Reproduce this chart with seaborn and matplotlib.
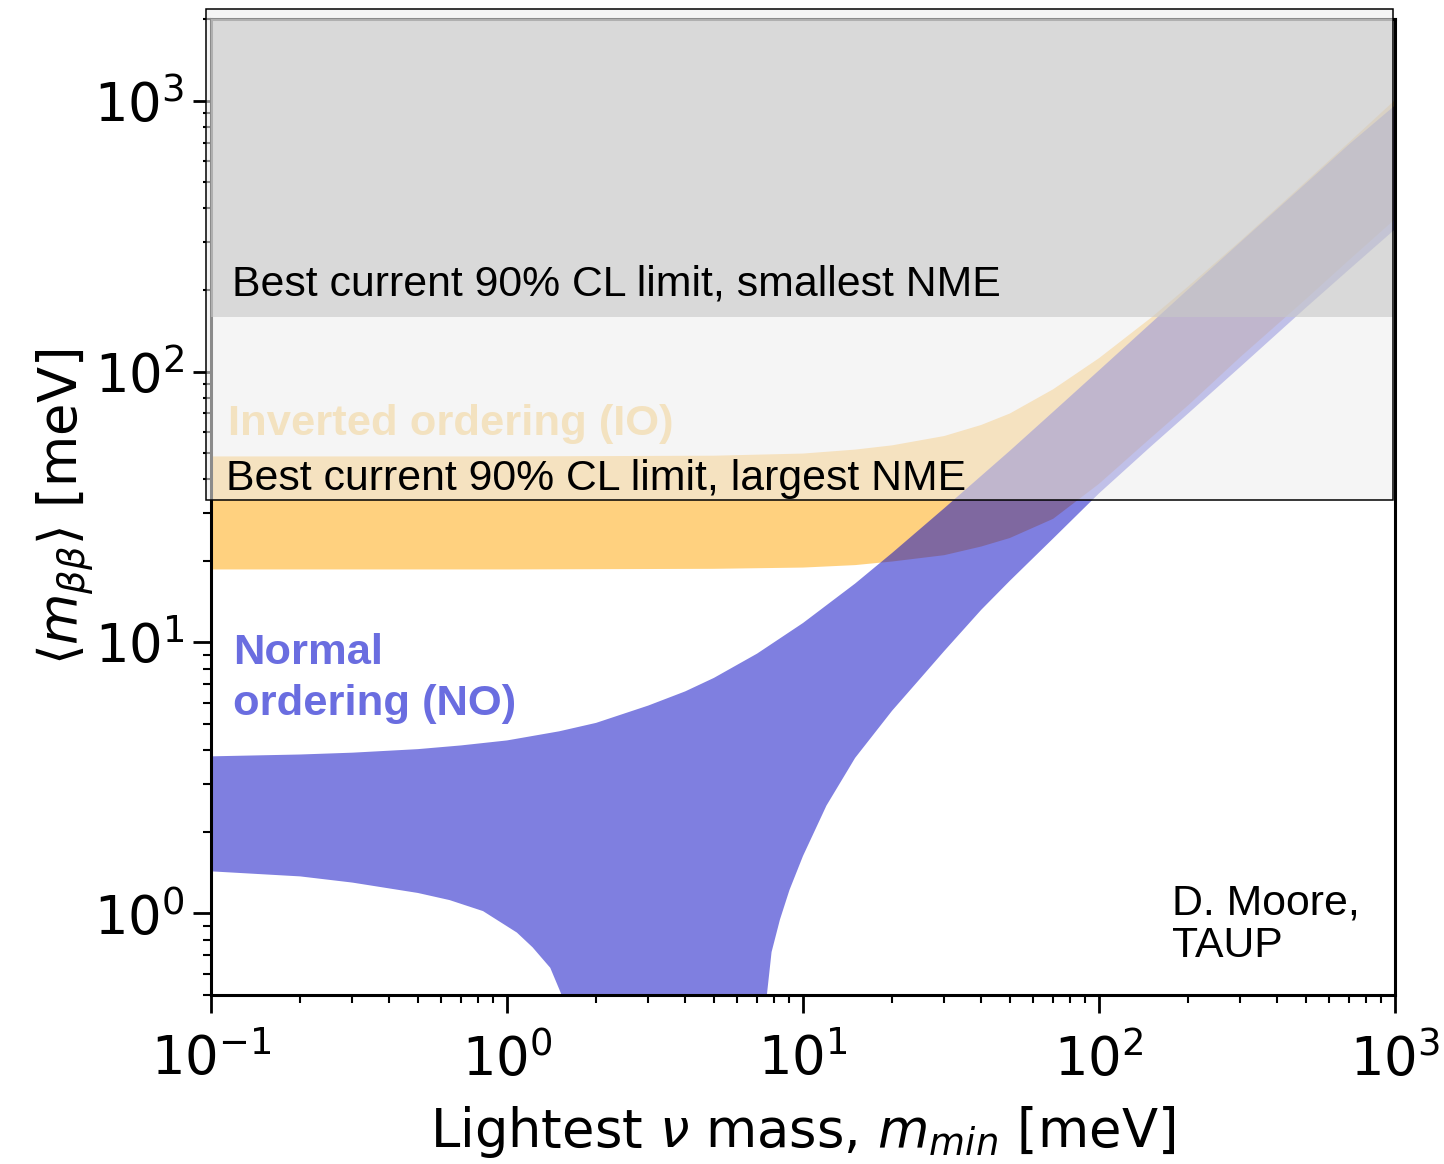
import matplotlib
matplotlib.use("Agg")
import matplotlib.pyplot as plt
import matplotlib.transforms as mtransforms
from matplotlib.patches import Rectangle
import seaborn as sns

# ---------------- data ----------------
# Normal ordering band: upper edge (left -> right)
no_upper_m = [0.1, 0.2, 0.3, 0.5, 0.7, 1, 1.5, 2, 3, 4, 5, 7, 10, 15, 20, 30,
              50, 70, 100, 150, 200, 300, 500, 700, 1000]
no_upper_v = [3.80, 3.86, 3.92, 4.04, 4.17, 4.35, 4.70, 5.05, 5.85, 6.6, 7.4,
              9.1, 11.8, 16.5, 21.4, 31.3, 51, 71, 101, 151, 201, 300, 495,
              690, 960]
# Normal ordering band: lower edge (right -> left, through the funnel)
no_lower_m = [1000, 700, 500, 300, 200, 150, 100, 70, 50, 40, 30, 25, 20, 15,
              12, 10, 9, 8.36, 7.83, 7.55, 7.3, 7.1, 1.7, 1.62, 1.53, 1.40,
              1.22, 1.08, 0.83, 0.64, 0.5, 0.3, 0.2, 0.1]
no_lower_v = [335, 238, 172, 104, 70, 53, 35.5, 24.2, 16.9, 13.2, 9.3, 7.4,
              5.6, 3.75, 2.5, 1.63, 1.22, 0.95, 0.72, 0.5, 0.35, 0.3, 0.3,
              0.35, 0.5, 0.63, 0.75, 0.85, 1.02, 1.12, 1.19, 1.30, 1.37, 1.43]
# Inverted ordering band
io_upper_m = [0.1, 1, 5, 10, 15, 20, 30, 40, 50, 70, 100, 150, 200, 300, 500,
              700, 1000]
io_upper_v = [48.6, 48.6, 48.9, 49.8, 51.5, 53.4, 57.8, 63.5, 70, 86, 112, 158,
              206, 303, 502, 702, 1005]
io_lower_m = [1000, 700, 500, 300, 200, 150, 100, 70, 50, 40, 30, 20, 15, 10,
              5, 1, 0.1]
io_lower_v = [365, 258, 185, 113, 75, 57, 38.5, 28.6, 24.3, 22.6, 21.0, 19.9,
              19.3, 18.9, 18.7, 18.6, 18.6]
# Experimental limits (meV)
limit_largest_nme = 33.6
limit_smallest_nme = 159.5

x_lim = (0.1, 1000)
y_lim = (0.5, 2000)

label_limit_small = "Best current 90% CL limit, smallest NME"
label_limit_large = "Best current 90% CL limit, largest NME"
label_io = "Inverted ordering (IO)"
label_no = ["Normal", "ordering (NO)"]
label_credit = ["D. Moore,", "TAUP"]
x_label = r"Lightest $\nu$ mass, $m_{min}$ [meV]"
y_label = r"$\langle m_{\beta\beta}\rangle$ [meV]"

# ---------------- style ----------------
sns.set_theme(style="ticks")
plt.rcParams["font.family"] = ["DejaVu Sans"]
plt.rcParams["mathtext.fontset"] = "dejavusans"
for k in ("text.color", "axes.labelcolor", "xtick.color", "ytick.color",
          "axes.edgecolor"):
    plt.rcParams[k] = "black"

W, H = 1444, 1164
fig = plt.figure(figsize=(W / 100, H / 100), dpi=100)
ax = fig.add_axes([211 / W, (H - 995) / H, 1184 / W, 976 / H])
ax.set_xscale("log")
ax.set_yscale("log")
ax.set_xlim(*x_lim)
ax.set_ylim(*y_lim)

io_col = (1.0, 0.647, 0.0)
no_col = (0.0, 0.0, 0.76)

ax.fill(io_upper_m + io_lower_m, io_upper_v + io_lower_v,
        color=io_col, alpha=0.5, lw=0, zorder=1)
ax.fill(no_upper_m + no_lower_m, no_upper_v + no_lower_v,
        color=no_col, alpha=0.5, lw=0, zorder=1.1)

# text under the overlay
sf = "Liberation Sans"
lab_size = 31.3
ax.text(0.0144, 0.5738, label_io, transform=ax.transAxes, fontsize=lab_size,
        fontweight="bold", family=sf, color=(0.99, 0.82, 0.50), zorder=1.5)
ax.text(0.0186, 0.3388, label_no[0], transform=ax.transAxes, fontsize=lab_size,
        fontweight="bold", family=sf, color="#6A6DE0", zorder=1.5)
ax.text(0.0186, 0.2869, label_no[1], transform=ax.transAxes, fontsize=lab_size,
        fontweight="bold", family=sf, color="#6A6DE0", zorder=1.5)

# overlay box for experimental limits
bt = mtransforms.blended_transform_factory(ax.transAxes, ax.transData)
x0, x1 = (206 - 211) / 1184, (1393 - 211) / 1184
y_box_top = 2178
light = Rectangle((x0, limit_largest_nme), x1 - x0, y_box_top - limit_largest_nme,
                  transform=bt, facecolor=(238 / 255,) * 3, alpha=0.59,
                  lw=0, clip_on=False, zorder=3)
dark = Rectangle((0, limit_smallest_nme), x1, y_lim[1] - limit_smallest_nme,
                 transform=bt, facecolor=(200 / 255,) * 3, alpha=0.62,
                 lw=0, clip_on=False, zorder=3.1)
border = Rectangle((x0, limit_largest_nme), x1 - x0, y_box_top - limit_largest_nme,
                   transform=bt, fill=False, edgecolor="black", lw=1.1,
                   clip_on=False, zorder=5)
for p in (light, dark, border):
    ax.add_patch(p)

ax.text(0.0177, 0.717, label_limit_small, transform=ax.transAxes, fontsize=30.8,
        family=sf, color="black", zorder=6)
ax.text(0.0127, 0.5174, label_limit_large, transform=ax.transAxes, fontsize=30.8,
        family=sf, color="black", zorder=6)
ax.text(0.8117, 0.082, label_credit[0], transform=ax.transAxes, fontsize=30.8,
        family=sf, color="black", zorder=6)
ax.text(0.8117, 0.0392, label_credit[1], transform=ax.transAxes, fontsize=30.8,
        family=sf, color="black", zorder=6)

# axes styling
for s in ax.spines.values():
    s.set_linewidth(2.2)
    s.set_color("black")
    s.set_zorder(2.5)
ax.tick_params(which="major", direction="out", length=13, width=2,
               labelsize=38, color="black", labelcolor="black")
ax.tick_params(which="minor", direction="out", length=6, width=1.5, color="black")
ax.tick_params(axis="x", which="major", pad=15)
ax.tick_params(axis="y", which="major", pad=6)
ax.set_xlabel(x_label, fontsize=38, labelpad=12)
ax.set_ylabel(y_label, fontsize=38, labelpad=-2)
ax.grid(False)

fig.savefig("out.png", dpi=100)
